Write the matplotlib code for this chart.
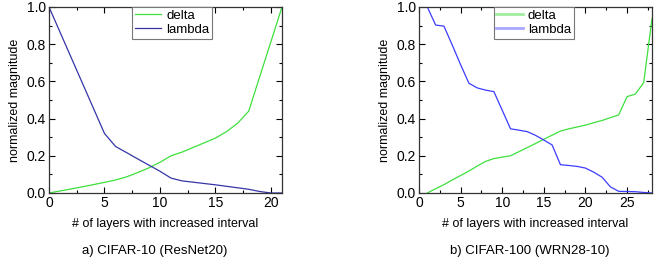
import numpy as np
import matplotlib
matplotlib.use("Agg")
import matplotlib.pyplot as plt
from matplotlib.ticker import MultipleLocator
from matplotlib.lines import Line2D

plt.rcParams['font.family'] = ['Liberation Sans', 'DejaVu Sans']

# a) CIFAR-10 (ResNet20)
x_a = list(range(0, 22))
delta_a = [0.0, 0.011, 0.022, 0.033, 0.045, 0.057, 0.07, 0.087, 0.11, 0.135, 0.165,
           0.2, 0.22, 0.245, 0.27, 0.295, 0.33, 0.375, 0.44, 0.627, 0.813, 1.0]
lambda_a = [1.0, 0.864, 0.728, 0.592, 0.456, 0.32, 0.25, 0.217, 0.183, 0.15, 0.117,
            0.08, 0.065, 0.058, 0.051, 0.044, 0.036, 0.028, 0.02, 0.008, 0.0, 0.0]

# b) CIFAR-100 (WRN28-10)
x_b = list(range(1, 29))
delta_b = [0.0, 0.023, 0.045, 0.07, 0.094, 0.118, 0.145, 0.17, 0.185, 0.193, 0.2,
           0.222, 0.244, 0.266, 0.289, 0.311, 0.333, 0.345, 0.355, 0.365, 0.378,
           0.39, 0.405, 0.42, 0.518, 0.532, 0.593, 0.937]
lambda_b = [1.0, 0.903, 0.897, 0.795, 0.69, 0.59, 0.565, 0.553, 0.545, 0.445, 0.345,
            0.338, 0.33, 0.31, 0.285, 0.258, 0.152, 0.148, 0.143, 0.134, 0.112,
            0.085, 0.033, 0.009, 0.008, 0.007, 0.003, 0.0]

captions = ["a) CIFAR-10 (ResNet20)", "b) CIFAR-100 (WRN28-10)"]

fig = plt.figure(figsize=(6.64, 2.6), dpi=100)
ax1 = fig.add_axes([49 / 664, 67 / 260, 233 / 664, 186 / 260])
ax2 = fig.add_axes([419 / 664, 67 / 260, 233 / 664, 186 / 260])

green = "#3ee03e"
ax1.plot(x_a, delta_a, color=green, lw=0.9, label="delta")
ax1.plot(x_a, lambda_a, color="#3535a8", lw=0.9, label="lambda")
ax2.plot(x_b, delta_b, color=green, lw=0.9)
ax2.plot(x_b, lambda_b, color="#3c3cff", lw=0.9)

for ax, xmax in [(ax1, 21), (ax2, 28)]:
    ax.set_xlim(0, xmax)
    ax.set_ylim(0, 1.0)
    ax.xaxis.set_major_locator(MultipleLocator(5))
    ax.xaxis.set_minor_locator(MultipleLocator(2.5))
    ax.yaxis.set_major_locator(MultipleLocator(0.2))
    ax.yaxis.set_minor_locator(MultipleLocator(0.1))
    ax.yaxis.set_major_formatter(plt.FormatStrFormatter("%.1f"))
    ax.tick_params(which="both", direction="in", top=True, right=True,
                   width=0.8, labelsize=10, pad=2)
    ax.tick_params(which="major", length=4)
    ax.tick_params(which="minor", length=2)
    for s in ax.spines.values():
        s.set_linewidth(0.9)
        s.set_color("#333333")
    ax.set_xlabel("# of layers with increased interval", fontsize=9, labelpad=6)
    ax.set_ylabel("normalized magnitude", fontsize=9, labelpad=4)

leg1 = ax1.legend(loc="upper center", bbox_to_anchor=(0.528, 1.0), borderaxespad=0,
                  fontsize=9.5, fancybox=False, edgecolor="#777777", framealpha=1,
                  handlelength=2.0, handletextpad=0.4, borderpad=0.2, labelspacing=0.15)
leg1.get_frame().set_linewidth(0.8)

handles_b = [Line2D([], [], color="#a0eea0", lw=2), Line2D([], [], color="#a8a8ff", lw=2)]
leg2 = ax2.legend(handles_b, ["delta", "lambda"], loc="upper center",
                  bbox_to_anchor=(0.492, 1.0), borderaxespad=0,
                  fontsize=9.5, fancybox=False, edgecolor="#777777", framealpha=1,
                  handlelength=2.0, handletextpad=0.4, borderpad=0.2, labelspacing=0.15)
leg2.get_frame().set_linewidth(0.8)

fig.text(155 / 664, 1 - 251 / 260, captions[0], ha="center", va="center", fontsize=9.5)
fig.text(530 / 664, 1 - 251 / 260, captions[1], ha="center", va="center", fontsize=9.5)

fig.savefig("out.png", dpi=100)
